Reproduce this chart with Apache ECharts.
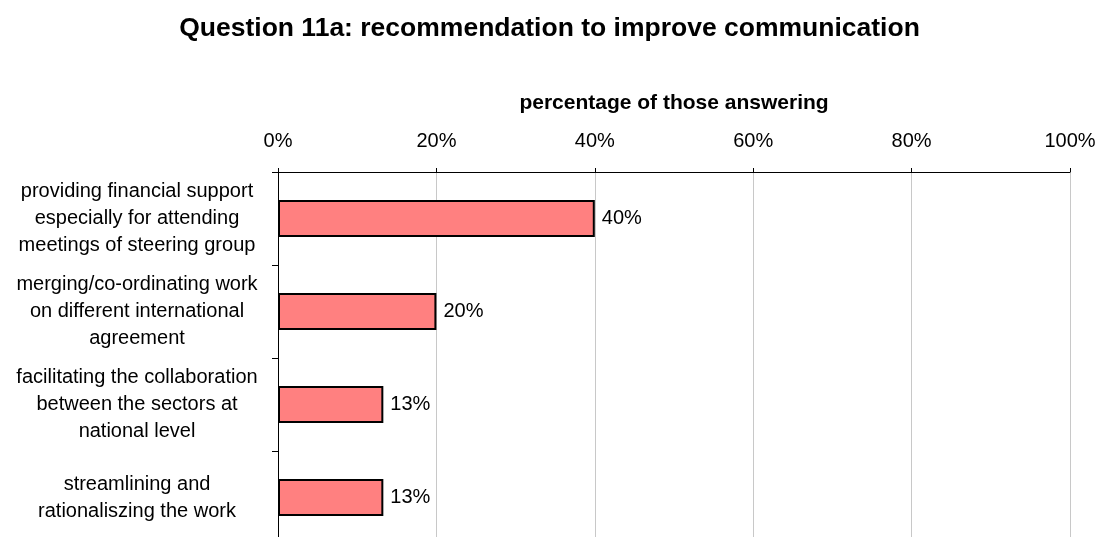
<!DOCTYPE html>
<html>
<head>
<meta charset="utf-8">
<script src="https://cdn.jsdelivr.net/npm/echarts@6/dist/echarts.min.js"></script>
<style>
  html, body { margin: 0; padding: 0; background: #fff; overflow: hidden; width: 1099px; height: 537px; }
  /* the plot runs a few pixels past the bottom edge of the page */
  #chart { width: 1099px; height: 546px; }
</style>
</head>
<body>
<div id="chart"></div>
<script>
// Recommendations, top to bottom
const categories = [
  'providing financial support\nespecially for attending\nmeetings of steering group',
  'merging/co-ordinating work\non different international\nagreement',
  'facilitating the collaboration\nbetween the sectors at\nnational level',
  'streamlining and\nrationaliszing the work'
];
// Share of respondents, percent
const shares = [40, 20, 13.3, 13.3];
const tickValues = [0, 20, 40, 60, 80, 100];

const FONT = '"Liberation Sans", Arial, sans-serif';

const chart = echarts.init(document.getElementById('chart'), null, { renderer: 'canvas' });

chart.setOption({
  animation: false,
  backgroundColor: '#ffffff',
  title: {
    text: 'Question 11a: recommendation to improve communication',
    left: 'center',
    top: 10,
    textStyle: { fontFamily: FONT, fontSize: 26.5, fontWeight: 'bold', color: '#000' }
  },
  grid: { left: 278, right: 29, top: 172, height: 372, containLabel: false },
  xAxis: {
    type: 'value',
    position: 'top',
    min: tickValues[0],
    max: tickValues[tickValues.length - 1],
    interval: 20,
    name: 'percentage of those answering',
    nameLocation: 'middle',
    nameGap: 58,
    nameTextStyle: { fontFamily: FONT, fontSize: 21, fontWeight: 'bold', color: '#000' },
    axisLine: { show: true, lineStyle: { color: '#000', width: 1 } },
    axisTick: { show: true, length: 4, lineStyle: { color: '#000' } },
    axisLabel: {
      margin: 21,
      fontFamily: FONT, fontSize: 20, color: '#000',
      formatter: v => v + '%'
    },
    splitLine: { show: true, lineStyle: { color: '#c8c8c8', width: 1 } }
  },
  yAxis: {
    type: 'category',
    inverse: true,
    data: categories,
    axisLine: { show: true, lineStyle: { color: '#000', width: 1 } },
    axisTick: { show: true, length: 6, alignWithLabel: false, lineStyle: { color: '#000' } },
    axisLabel: {
      align: 'center',
      margin: 141,
      lineHeight: 27,
      fontFamily: FONT, fontSize: 20, color: '#000'
    },
    splitLine: { show: false }
  },
  series: [{
    type: 'bar',
    data: shares,
    barCategoryGap: '60%',
    itemStyle: { color: '#FF8080', borderColor: '#000', borderWidth: 2 },
    label: {
      show: true,
      position: 'right',
      distance: 7,
      fontFamily: FONT, fontSize: 20, color: '#000',
      formatter: p => Math.round(p.value) + '%'
    }
  }]
});
</script>
</body>
</html>
